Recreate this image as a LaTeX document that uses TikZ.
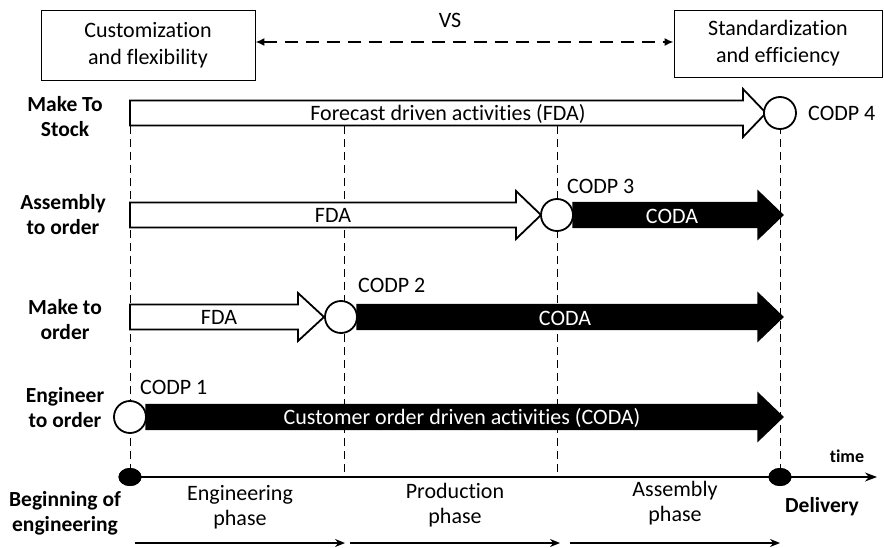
\documentclass[tikz,border=0pt]{standalone}
\usepackage{fontspec}
\setmainfont[Ligatures=NoCommon]{Carlito}
\usetikzlibrary{arrows.meta,shapes.geometric}
\newcommand\blockarr[5]{%
  \path[#1] (#2,#5-12.5) -- (#3,#5-12.5) -- (#3,#5-24) -- (#4,#5) -- (#3,#5+24) -- (#3,#5+12.5) -- (#2,#5+12.5) -- cycle;}
\begin{document}
\begin{tikzpicture}[x=1pt,y=-1pt,
  txt/.style={font=\fontsize{22}{25}\selectfont, inner sep=0pt, align=center},
  btxt/.style={font=\fontsize{21.5}{25}\selectfont\bfseries, inner sep=0pt, align=center},
  wtxt/.style={txt, text=white},
  sidebox/.style={draw, line width=0.8pt, align=center, font=\fontsize{22}{27}\selectfont, inner sep=0pt},
  whitearr/.style={draw, line width=1.8pt, fill=white, line join=miter},
  blackarr/.style={draw, line width=1.2pt, fill=black, line join=miter},
  codp/.style={circle, draw, line width=1.8pt, fill=white, minimum size=32pt, inner sep=0pt},
  enddot/.style={ellipse, fill=black, minimum width=23pt, minimum height=18pt, inner sep=0pt},
  guide/.style={line width=0.8pt, dash pattern=on 8pt off 5pt},
  vsline/.style={line width=2.6pt, dash pattern=on 13pt off 8pt, {Latex[length=9pt,width=8pt]}-{Latex[length=9pt,width=8pt]}},
  axisline/.style={line width=1.4pt, -{Stealth[length=12pt,width=9pt]}},
  phasearr/.style={line width=1.3pt, -{Stealth[length=10pt,width=8pt]}}
]
\useasboundingbox (0,0) rectangle (884,548);

% top boxes
\node[sidebox, minimum width=214pt, minimum height=70pt] (lbox) at (148,45) {Customization\\and flexibility};
\node[sidebox, minimum width=208pt, minimum height=67pt] (rbox) at (778,43.5) {Standardization\\and efficiency};
\node[txt] (vs) at (450,20) {VS};
\draw[vsline] (lbox.east |- 0,42) -- (rbox.west |- 0,42);

% guide coordinates
\coordinate (g1t) at (130,113);
\coordinate (g2t) at (344,126);
\coordinate (g3t) at (557,126);
\coordinate (g4t) at (780,113);
\node[enddot] (d0) at (130,477) {};
\node[enddot] (d1) at (780,477) {};
\coordinate (g2b) at (344,477);
\coordinate (g3b) at (557,477);
\coordinate (tend) at (877,477);

\draw[guide] (g1t) -- (d0.center);
\draw[guide] (g2t) -- (g2b);
\draw[guide] (g3t) -- (g3b);
\draw[guide] (g4t) -- (d1.center);

% row 1: make to stock
\blockarr{whitearr}{130}{743}{766}{113}
\node[codp] (c4) at (780,113) {};
\node[txt] (fda1) at (448,114) {Forecast driven activities (FDA)};
\node[txt, anchor=west] (l4) at (808,113) {CODP 4};

% row 2: assembly to order
\blockarr{whitearr}{130}{516}{541}{215}
\node[codp] (c3) at (557,215) {};
\blockarr{blackarr}{573}{758}{783}{215}
\node[txt] (fda2) at (333,215) {FDA};
\node[wtxt] (coda2) at (672,216) {CODA};
\node[txt, anchor=west] (l3) at (567,186) {CODP 3};

% row 3: make to order
\blockarr{whitearr}{130}{298}{324}{317}
\node[codp] (c2) at (341,317) {};
\blockarr{blackarr}{357}{758}{783}{317}
\node[txt] (fda3) at (219,317) {FDA};
\node[wtxt] (coda3) at (565,318) {CODA};
\node[txt, anchor=west] (l2) at (358,285) {CODP 2};

% row 4: engineer to order
\node[codp] (c1) at (130,417) {};
\blockarr{blackarr}{146}{758}{783}{417}
\node[wtxt] (coda4) at (462,418) {Customer order driven activities (CODA)};
\node[txt, anchor=west] (l1) at (140,387) {CODP 1};

% row labels
\node[btxt] (r1) at (65,117) {Make To\\Stock};
\node[btxt] (r2) at (63,215) {Assembly\\to order};
\node[btxt] (r3) at (65,320) {Make to\\order};
\node[btxt] (r4) at (65,408) {Engineer\\to order};

% time axis
\draw[axisline] (d0.center) -- (tend);
\node[enddot] at (d0) {};
\node[enddot] at (d1) {};
\node[font=\fontsize{18}{20}\selectfont\bfseries, inner sep=0pt] (time) at (847,456) {time};

% bottom labels
\node[btxt] (beg) at (65,513) {Beginning of\\engineering};
\node[btxt] (del) at (822,507) {Delivery};
\node[txt] (ph1) at (240,507) {Engineering\\phase};
\node[txt] (ph2) at (455,505) {Production\\phase};
\node[txt] (ph3) at (675,503) {Assembly\\phase};

% phase arrows
\coordinate (p1a) at (135,543); \coordinate (p1b) at (345,543);
\coordinate (p2a) at (350,543); \coordinate (p2b) at (560,543);
\coordinate (p3a) at (570,543); \coordinate (p3b) at (780,543);
\draw[phasearr] (p1a) -- (p1b);
\draw[phasearr] (p2a) -- (p2b);
\draw[phasearr] (p3a) -- (p3b);
\end{tikzpicture}
\end{document}
